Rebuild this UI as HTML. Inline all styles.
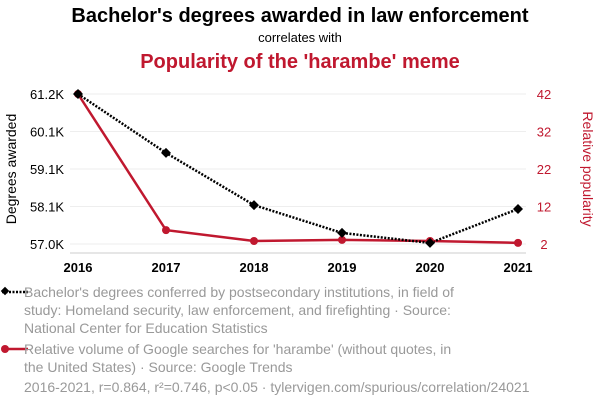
<!DOCTYPE html>
<html><head><meta charset="utf-8"><style>
body{margin:0;background:#fff;width:600px;height:408px;overflow:hidden;font-family:"Liberation Sans",sans-serif}
</style></head><body>
<svg width="600" height="408" xmlns="http://www.w3.org/2000/svg">
<text x="300" y="22" text-anchor="middle" font-size="20" font-weight="bold" fill="#000">Bachelor's degrees awarded in law enforcement</text>
<text x="300" y="42" text-anchor="middle" font-size="13" fill="#000">correlates with</text>
<text x="300" y="68" text-anchor="middle" font-size="20" font-weight="bold" fill="#c0182f">Popularity of the 'harambe' meme</text>
<g id="grid"></g>
<g id="axes"></g>
<g id="marks"></g>
<text transform="translate(16,169) rotate(-90)" text-anchor="middle" font-size="14" fill="#000">Degrees awarded</text>
<text transform="translate(583,169) rotate(90)" text-anchor="middle" font-size="14" fill="#c0182f">Relative popularity</text>
<g>
<line x1="2" y1="292" x2="28" y2="292" stroke="#000" stroke-width="2.5" stroke-dasharray="2,1.5"/>
<rect x="2" y="288" width="6" height="6" transform="rotate(45 5 291)" fill="#000"/>
<text font-size="14" fill="#999"><tspan x="24" y="297">Bachelor's degrees conferred by postsecondary institutions, in field of</tspan><tspan x="24" y="315">study: Homeland security, law enforcement, and firefighting · Source:</tspan><tspan x="24" y="333">National Center for Education Statistics</tspan></text>
</g>
<g>
<line x1="2" y1="349" x2="28" y2="349" stroke="#c0182f" stroke-width="2.5"/>
<circle cx="5" cy="349" r="4" fill="#c0182f"/>
<text font-size="14" fill="#999"><tspan x="24" y="354">Relative volume of Google searches for 'harambe' (without quotes, in</tspan><tspan x="24" y="372">the United States) · Source: Google Trends</tspan></text>
</g>
<text x="24" y="392" font-size="14" fill="#999">2016-2021, r=0.864, r²=0.746, p&lt;0.05 · tylervigen.com/spurious/correlation/24021</text>
</svg>
<script>
const years=[2016,2017,2018,2019,2020,2021];
const degrees=[61.2,59.55,58.09,57.31,57.03,57.98];
const harambe=[42,5.7,2.8,3.1,2.8,2.3];
const leftTicks=[57.0,58.05,59.1,60.15,61.2];
const leftTickLabels=["57.0K","58.1K","59.1K","60.1K","61.2K"];
const rightTicks=[2,12,22,32,42];
const NS="http://www.w3.org/2000/svg";
const x=y=>78+(y-2016)*88;
const yl=v=>244-(v-57.0)/(61.2-57.0)*150;
const yr=v=>244-(v-2)/40*150;
function mk(t,a,p){const e=document.createElementNS(NS,t);for(const k in a)e.setAttribute(k,a[k]);p.appendChild(e);return e;}
const grid=document.getElementById('grid'),axes=document.getElementById('axes'),marks=document.getElementById('marks');
leftTicks.forEach((v,i)=>{
 const g=mk('line',{x1:70,x2:526,y1:yl(v),y2:yl(v),stroke:'#eee'},grid);
 
 
 const t=mk('text',{x:64,y:yl(v)+5,'text-anchor':'end','font-size':13,fill:'#000'},axes);t.textContent=leftTickLabels[i];
 
 
});
rightTicks.forEach(v=>{
 const t=mk('text',{x:544,y:yr(v)+5,'text-anchor':'middle','font-size':13,fill:'#c0182f'},axes);t.textContent=v;
 
 
});
const ax=mk('line',{x1:70,x2:526,y1:253,y2:253,stroke:'#ccc'},axes);


years.forEach(y=>{
 const t=mk('text',{x:x(y),y:272,'text-anchor':'middle','font-size':13,'font-weight':'bold',fill:'#000'},axes);t.textContent=y;
 
 
});
const rl=mk('polyline',{points:years.map((y,i)=>x(y)+','+yr(harambe[i])).join(' '),fill:'none',stroke:'#c0182f','stroke-width':2.5},marks);


const bl=mk('polyline',{points:years.map((y,i)=>x(y)+','+yl(degrees[i])).join(' '),fill:'none',stroke:'#000','stroke-width':2.5,'stroke-dasharray':'2,1.5'},marks);


years.forEach((y,i)=>{
 const c=mk('circle',{cx:x(y),cy:yr(harambe[i]),r:4,fill:'#c0182f'},marks);
 
 
 const px=x(y),py=yl(degrees[i]);
 const d=mk('polygon',{points:`${px},${py-5} ${px+5},${py} ${px},${py+5} ${px-5},${py}`,fill:'#000'},marks);
 
 
});
</script>
</body></html>
